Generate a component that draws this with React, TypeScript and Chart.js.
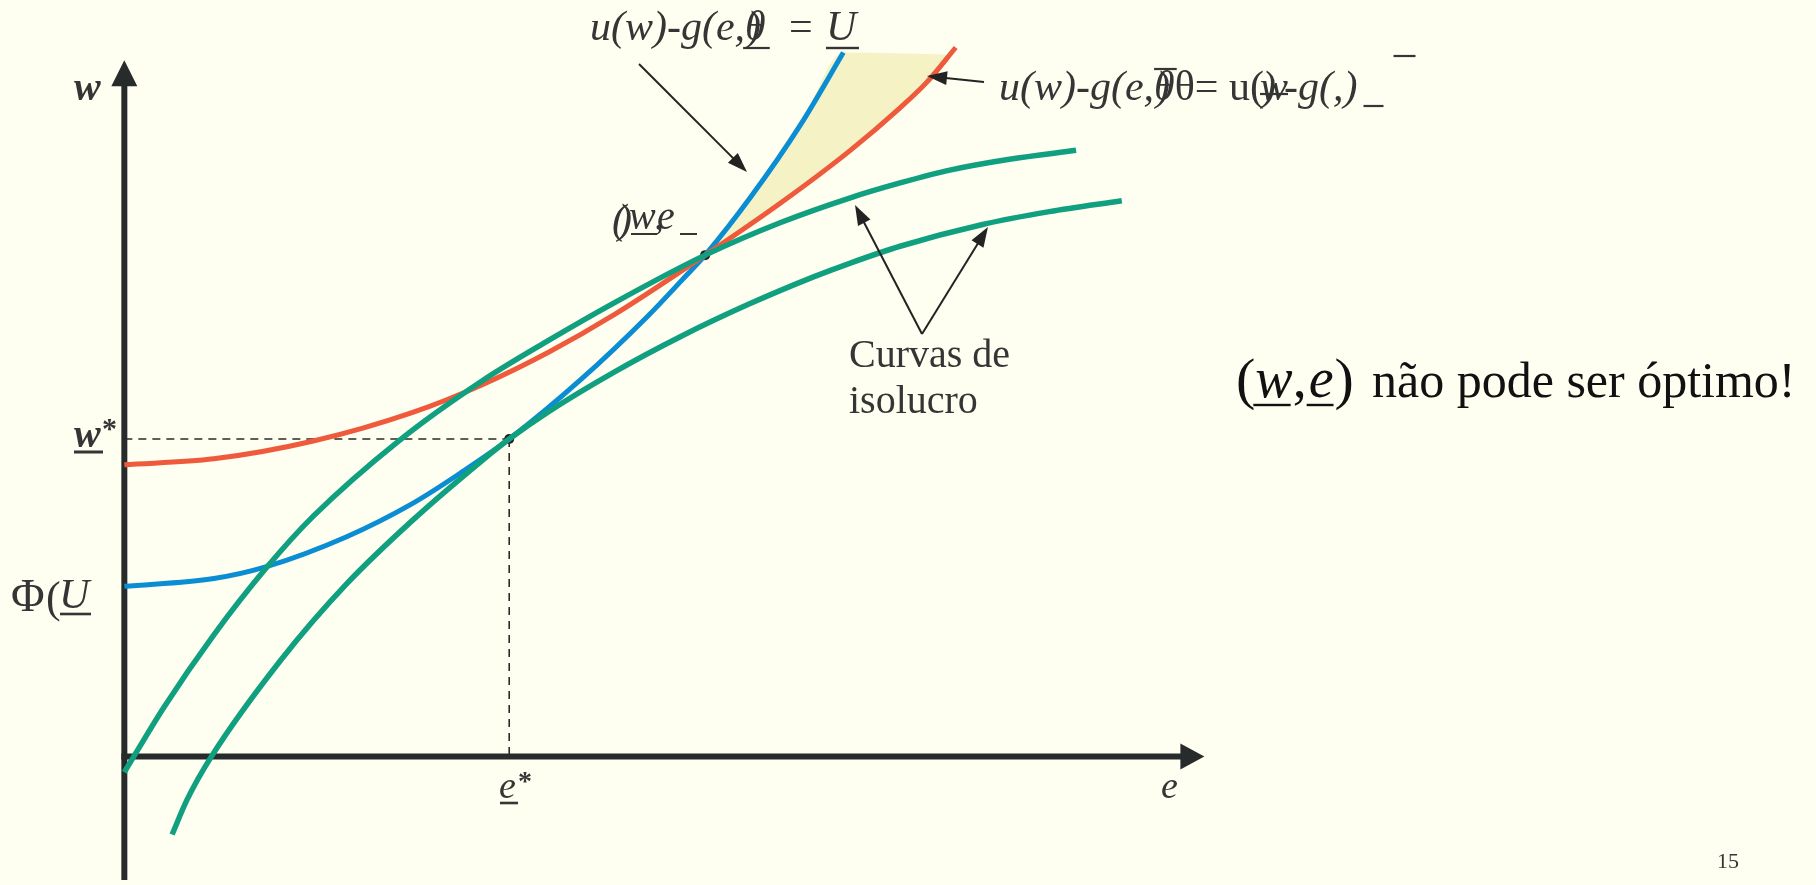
import React, { useEffect, useRef } from "react";
import { Chart, registerables } from "chart.js";

Chart.register(...registerables);

const W = 1816;
const H = 885;

// ---- data (effort e, wage w) ----
const redE = [0.0, 0.9, 1.9, 2.9, 3.6, 4.27, 4.93, 5.84, 6.63, 7.3, 7.8, 8.07, 8.36];
const redW = [2.95, 3.01, 3.19, 3.48, 3.76, 4.09, 4.47, 5.07, 5.62, 6.13, 6.56, 6.82, 7.17];

const blueE = [0.0, 0.9, 1.43, 2.23, 2.9, 3.4, 3.87, 4.6, 5.27, 5.6, 5.84, 6.3, 6.8, 7.23];
const blueW = [1.72, 1.8, 1.92, 2.22, 2.56, 2.88, 3.21, 3.82, 4.46, 4.81, 5.07, 5.66, 6.39, 7.12];

const iso1E = [0.0, 0.4, 0.9, 1.43, 1.9, 2.77, 3.6, 4.27, 4.93, 5.84, 6.6, 7.3, 7.8, 8.3, 8.9, 9.57];
const iso1W = [-0.16, 0.5, 1.23, 1.91, 2.43, 3.2, 3.8, 4.21, 4.59, 5.07, 5.4, 5.65, 5.8, 5.93, 6.04, 6.13];

const iso2E = [0.48, 0.63, 0.87, 1.57, 2.23, 2.9, 3.57, 3.87, 4.27, 4.93, 5.6, 6.27, 6.93, 7.3, 7.8, 8.63, 9.3, 10.03];
const iso2W = [-0.79, -0.44, -0.01, 0.97, 1.74, 2.39, 2.97, 3.21, 3.49, 3.89, 4.25, 4.57, 4.85, 4.99, 5.16, 5.38, 5.51, 5.62];

const eStar = 3.87;
const wStar = 3.21;
const eTan = 5.84;
const wTan = 5.07;
const fillTopE = 8.3;
const fillTopW = 7.1;

// axis extents (data units)
const xMin = -1.2;
const xMax = 16.96;
const yMin = -1.25;
const yMax = 7.6;
const xAxisEnd = 10.86;
const yAxisEnd = 7.04;

const COL_RED = "#EE5A3B";
const COL_BLUE = "#0A8DD2";
const COL_GREEN = "#10A07F";
const COL_FILL = "#F5F2C6";
const COL_AXIS = "#272B2B";
const COL_TEXT = "#353535";
const BG = "#FEFEF1";

const pts = (xs: number[], ys: number[]) => xs.map((x, i) => ({ x, y: ys[i] }));

function arrowHead(ctx: CanvasRenderingContext2D, x1: number, y1: number, x2: number, y2: number, len: number, hw: number) {
  const a = Math.atan2(y2 - y1, x2 - x1);
  const bx = x2 - len * Math.cos(a);
  const by = y2 - len * Math.sin(a);
  ctx.beginPath();
  ctx.moveTo(x2, y2);
  ctx.lineTo(bx + hw * Math.sin(a), by - hw * Math.cos(a));
  ctx.lineTo(bx - hw * Math.sin(a), by + hw * Math.cos(a));
  ctx.closePath();
  ctx.fill();
}

const bgPlugin = {
  id: "bg",
  beforeDraw(chart: any) {
    const ctx = chart.ctx;
    ctx.save();
    ctx.fillStyle = BG;
    ctx.fillRect(0, 0, chart.width, chart.height);
    ctx.restore();
  },
};

const axesPlugin = {
  id: "axes",
  beforeDatasetsDraw(chart: any) {
    const ctx = chart.ctx;
    const X = (v: number) => chart.scales.x.getPixelForValue(v);
    const Y = (v: number) => chart.scales.y.getPixelForValue(v);
    ctx.save();
    ctx.strokeStyle = COL_AXIS;
    ctx.fillStyle = COL_AXIS;
    ctx.lineWidth = 6;
    // y axis
    ctx.beginPath();
    ctx.moveTo(X(0), Y(yMin));
    ctx.lineTo(X(0), Y(yAxisEnd) + 20);
    ctx.stroke();
    arrowHead(ctx, X(0), Y(0), X(0), Y(yAxisEnd), 26, 13);
    // x axis
    ctx.beginPath();
    ctx.moveTo(X(0) - 3, Y(0));
    ctx.lineTo(X(xAxisEnd) - 20, Y(0));
    ctx.stroke();
    arrowHead(ctx, X(0), Y(0), X(xAxisEnd), Y(0), 24, 13);
    // dashed guides
    ctx.lineWidth = 1.6;
    ctx.setLineDash([8, 6]);
    ctx.strokeStyle = "#2a2a2a";
    ctx.beginPath();
    ctx.moveTo(X(0), Y(wStar));
    ctx.lineTo(X(eStar), Y(wStar));
    ctx.moveTo(X(eStar), Y(wStar));
    ctx.lineTo(X(eStar), Y(0));
    ctx.stroke();
    ctx.restore();
  },
};

const textPlugin = {
  id: "texts",
  afterDraw(chart: any) {
    const ctx: CanvasRenderingContext2D = chart.ctx;
    const F = "'Liberation Serif', 'Times New Roman', serif";
    ctx.save();
    ctx.fillStyle = COL_TEXT;
    ctx.strokeStyle = COL_TEXT;
    ctx.textBaseline = "alphabetic";

    const uline = (x1: number, x2: number, y: number, w = 2.2) => {
      ctx.fillRect(x1, y - w / 2, x2 - x1, w);
    };
    const put = (s: string, x: number, y: number, font: string) => {
      ctx.font = font;
      ctx.fillText(s, x, y);
      return x + ctx.measureText(s).width;
    };

    // annotation arrows
    ctx.lineWidth = 2;
    ctx.fillStyle = "#232323";
    ctx.strokeStyle = "#232323";
    const arrows = [
      [639, 64, 747, 172],
      [984, 82, 927, 76],
      [922, 334, 855, 205],
      [922, 334, 988, 227],
    ];
    for (const [x1, y1, x2, y2] of arrows) {
      const a = Math.atan2(y2 - y1, x2 - x1);
      ctx.beginPath();
      ctx.moveTo(x1, y1);
      ctx.lineTo(x2 - 14 * Math.cos(a), y2 - 14 * Math.sin(a));
      ctx.stroke();
      arrowHead(ctx, x1, y1, x2, y2, 20, 7);
    }
    ctx.fillStyle = COL_TEXT;

    // axis labels
    put("w", 74, 100, `italic bold 40px ${F}`);
    put("e", 1161, 798, `italic 38px ${F}`);

    // w* label
    let x = put("w", 74, 447, `italic bold 40px ${F}`);
    put("*", 102, 438, `bold 30px ${F}`);
    uline(74, 103, 452, 3);

    // Phi(U label
    put("\u03A6", 11, 611, `46px ${F}`);
    put("(", 46, 612, `44px ${F}`);
    put("U", 59, 608, `italic 42px ${F}`);
    uline(60, 91, 614, 2.6);

    // e* label
    put("e", 499, 798, `italic 38px ${F}`);
    put("*", 518, 790, `bold 28px ${F}`);
    uline(500, 518, 803, 2.6);

    // top label 1
    x = put("u(w)-g(e,", 590, 40, `italic 42px ${F}`);
    const thX = x;
    x = put("\u03B8", thX, 40, `italic 42px ${F}`);
    uline(thX - 2, x + 4, 48, 2.2);
    put(")", thX + 2, 40, `italic 42px ${F}`);
    put("=", 789, 40, `42px ${F}`);
    put("U", 826, 40, `italic 42px ${F}`);
    uline(826, 859, 48, 2.4);

    // top label 2
    x = put("u(w)-g(e,", 999, 100, `italic 42px ${F}`);
    const th2 = x;
    x = put("\u03B8", th2, 100, `italic 42px ${F}`);
    uline(th2, x + 2, 69, 2.2);
    put(")", th2 + 2, 100, `italic 42px ${F}`);
    x = put("\u03B8= u(", x, 100, `42px ${F}`);
    const wx = x;
    x = put("w", wx - 4, 100, `italic 42px ${F}`);
    uline(wx - 4, x, 94, 2.2);
    put(")", wx - 2, 100, `italic 42px ${F}`);
    x = put("-g(,)", x - 4, 100, `italic 42px ${F}`);
    uline(x + 6, x + 26, 106, 2.2);
    uline(x + 36, x + 58, 56, 2.2);

    // (w,e) label at the crossing point
    put("(", 612, 233, `italic 42px ${F}`);
    put(")", 618, 233, `italic 42px ${F}`);
    x = put("w", 629, 229, `italic 40px ${F}`);
    uline(631, 657, 234, 2);
    put(",", 654, 229, `italic 40px ${F}`);
    put("e", 657, 229, `italic 40px ${F}`);
    uline(680, 697, 234, 2);

    // isoprofit caption
    put("Curvas de", 849, 367, `40px ${F}`);
    put("isolucro", 849, 413, `40px ${F}`);

    // right statement
    ctx.fillStyle = "#111111";
    x = put("(", 1236, 398, `58px ${F}`);
    const w0 = x;
    x = put("w", x, 397, `italic 56px ${F}`);
    uline(w0 - 2, x - 2, 405, 2.4);
    x = put(",", x, 397, `56px ${F}`);
    const e0 = x + 2;
    x = put("e", e0, 397, `italic 56px ${F}`);
    uline(e0 - 2, x, 405, 2.4);
    put(")", x + 1, 398, `58px ${F}`);
    put("não pode ser óptimo!", 1372, 397, `50px ${F}`);

    // page number
    ctx.fillStyle = COL_TEXT;
    put("15", 1717, 868, `22px ${F}`);
    ctx.restore();
  },
};

export default function App() {
  const ref = useRef<HTMLCanvasElement | null>(null);

  useEffect(() => {
    document.body.style.margin = "0";
    document.body.style.background = BG;
    document.body.style.overflow = "hidden";
    const canvas = ref.current;
    if (!canvas) return;

    const fillSrc = pts(blueE, blueW).filter((p) => p.x >= eTan);
    fillSrc.push({ x: fillTopE, y: fillTopW });

    const line = (data: any[], color: string, width: number) => ({
      type: "line" as const,
      data,
      borderColor: color,
      borderWidth: width,
      pointRadius: 0,
      fill: false,
      cubicInterpolationMode: "monotone" as const,
      borderCapStyle: "butt" as const,
    });

    const chart = new Chart(canvas, {
      type: "scatter",
      data: {
        datasets: [
          { label: "Isolucro 1", ...line(pts(iso1E, iso1W), COL_GREEN, 5.5) },
          { label: "Isolucro 2", ...line(pts(iso2E, iso2W), COL_GREEN, 5.5) },
          { label: "Participação θ̄", ...line(pts(redE, redW), COL_RED, 5) },
          { label: "Participação θ", ...line(pts(blueE, blueW), COL_BLUE, 5) },
          {
            label: "Pontos",
            type: "scatter" as const,
            data: [
              { x: eStar, y: wStar },
              { x: eTan, y: wTan },
            ],
            pointRadius: 5,
            pointBackgroundColor: "#222",
            pointBorderWidth: 0,
          },
          {
            label: "Zona",
            type: "line" as const,
            data: fillSrc,
            borderWidth: 0,
            borderColor: "rgba(0,0,0,0)",
            pointRadius: 0,
            backgroundColor: COL_FILL,
            fill: 2,
            cubicInterpolationMode: "monotone" as const,
          },
        ],
      },
      options: {
        animation: false,
        responsive: false,
        devicePixelRatio: 1,
        layout: { padding: 0 },
        plugins: {
          legend: { display: false },
          tooltip: { enabled: false },
        },
        scales: {
          x: { type: "linear", min: xMin, max: xMax, display: false },
          y: { type: "linear", min: yMin, max: yMax, display: false },
        },
      },
      plugins: [bgPlugin, axesPlugin, textPlugin],
    });
    return () => chart.destroy();
  }, []);

  return (
    <div style={{ width: W, height: H, background: BG }}>
      <canvas ref={ref} width={W} height={H} style={{ display: "block", width: W, height: H }} />
    </div>
  );
}
